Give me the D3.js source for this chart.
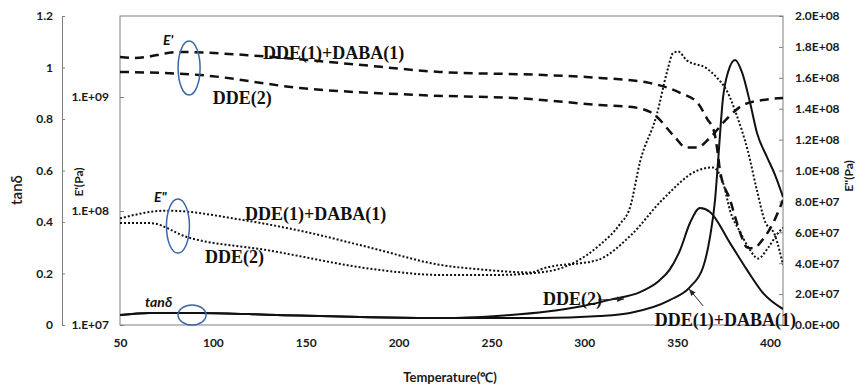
<!DOCTYPE html>
<html>
<head>
<meta charset="utf-8">
<script src="https://cdn.jsdelivr.net/npm/d3@7"></script>
<style>
  body { margin: 0; background: #fff; }
  svg { display: block; }
  .ax text { font-family: Lato, sans-serif; font-weight: 700; font-size: 12px; fill: #1a1a1a; }
  .ax path, .ax line { stroke: #7f7f7f; }
  .note { font-family: "Liberation Serif", serif; font-weight: 700; font-size: 18px; fill: #111; }
  .it { font-family: Lato, sans-serif; font-weight: 700; font-style: italic; font-size: 14px; fill: #111; }
  .title { font-family: Lato, sans-serif; font-weight: 700; font-size: 12px; fill: #1a1a1a; }
</style>
</head>
<body>
<svg width="856" height="385"></svg>
<script>
// [temperature °C, value]
const eStoreBlend = [[50, 2.24e9], [58, 2.2e9], [82, 2.48e9], [125, 2.29e9], [174, 1.95e9], [222, 1.66e9],
  [278, 1.56e9], [308.5, 1.47e9], [335, 1.33e9], [352, 1.08e9], [361, 8.9e8], [366, 6.5e8], [370, 4.9e8],
  [372, 3.1e8], [373, 2.3e8], [378.5, 1.25e8], [384, 6.4e7], [387.6, 4.8e7], [391, 4.7e7], [396, 5.6e7],
  [401.6, 7.8e7], [407, 1.25e8]];
const eStoreDDE2 = [[50, 1.66e9], [93, 1.56e9], [147, 1.2e9], [211.5, 1.04e9], [271, 9.6e8], [308.5, 8.5e8],
  [324.6, 8.2e8], [335.4, 7.4e8], [339, 6.7e8], [348, 4.6e8], [355, 3.6e8], [360.7, 3.6e8], [367.7, 4.4e8],
  [377, 6.5e8], [385.5, 8.5e8], [396, 9.4e8], [407, 9.8e8]];
const eLossBlend = [[50, 6.9e7], [75, 7.4e7], [116, 6.8e7], [147, 6.1e7], [185, 5.0e7], [222, 3.9e7],
  [244, 3.6e7], [271, 3.4e7], [279, 3.7e7], [307, 4.2e7], [325, 5.8e7], [342, 8.1e7], [361, 1.0e8],
  [369, 1.02e8], [375, 9.1e7], [378.5, 7.4e7], [384, 6.0e7], [389, 4.9e7], [393.6, 4.3e7], [399, 5.0e7],
  [404, 5.9e7], [407, 6.3e7]];
const eLossDDE2 = [[50, 6.6e7], [66, 6.6e7], [86, 5.7e7], [129, 4.85e7], [190, 3.56e7], [222, 3.24e7],
  [253, 3.24e7], [278, 3.43e7], [294, 4.0e7], [308.5, 5.2e7], [319, 6.5e7], [324.6, 7.6e7], [330, 1.055e8],
  [339, 1.36e8], [344.6, 1.64e8], [347.8, 1.76e8], [350.5, 1.77e8], [355, 1.715e8], [366, 1.66e8],
  [371.5, 1.6e8], [377, 1.51e8], [382, 1.36e8], [388, 1.13e8], [393, 8.7e7], [397, 6.8e7], [402.7, 5.8e7],
  [407, 3.9e7]];
const tanBlend = [[50, 0.039], [66, 0.047], [93, 0.047], [134.5, 0.039], [224, 0.027], [276, 0.027],
  [308.5, 0.035], [324.6, 0.047], [346, 0.097], [357, 0.148], [364, 0.225], [367.7, 0.342], [370.4, 0.485],
  [372, 0.633], [374.7, 0.882], [377.4, 0.982], [381.2, 1.029], [384.9, 0.982], [389.3, 0.862],
  [393, 0.746], [398.4, 0.652], [402.7, 0.583], [407, 0.497]];
const tanDDE2 = [[50, 0.039], [66, 0.047], [93, 0.047], [134.5, 0.039], [224, 0.027], [253, 0.035],
  [280, 0.052], [300, 0.075], [315, 0.1], [330, 0.128], [340, 0.17], [346, 0.215], [351.6, 0.291],
  [356.9, 0.396], [362.3, 0.454], [367.7, 0.439], [378.5, 0.318], [387.6, 0.214], [396.3, 0.124],
  [407, 0.062]];

const xTicks = [50, 100, 150, 200, 250, 300, 350, 400];
const tanTicks = [0, 0.2, 0.4, 0.6, 0.8, 1, 1.2];
const eStoreTicks = [1e7, 1e8, 1e9];
const eLossTicks = [0, 2e7, 4e7, 6e7, 8e7, 1e8, 1.2e8, 1.4e8, 1.6e8, 1.8e8, 2e8];

const svg = d3.select('svg');
const m = { left: 120, right: 783, top: 16, bottom: 325 };

const x = d3.scaleLinear().domain([50, 407]).range([m.left, m.right]);
const yTan = d3.scaleLinear().domain([0, 1.2]).range([m.bottom, m.top]);
const yStore = d3.scaleLog().domain([1e7, Math.pow(10, 7 + 309 / 114)]).range([m.bottom, m.top]);
const yLoss = d3.scaleLinear().domain([0, 2e8]).range([m.bottom, m.top]);

const sciFmt = (d) => {
  const [mant, e] = d.toExponential(1).split('e');
  const n = Math.abs(+e);
  return `${mant}E${+e < 0 ? '-' : '+'}${n < 10 ? '0' : ''}${n}`;
};

// axes
svg.append('g').attr('class', 'ax')
  .attr('transform', 'translate(62,0)')
  .call(d3.axisLeft(yTan).tickValues(tanTicks).tickFormat(d => String(d))
    .tickSizeInner(-3).tickSizeOuter(0).tickPadding(9));

svg.append('g').attr('class', 'ax')
  .attr('transform', `translate(${m.left},0)`)
  .call(d3.axisLeft(yStore).tickValues(eStoreTicks).tickFormat(d => `1.E+0${Math.round(Math.log10(d))}`)
    .tickSizeInner(-4).tickSizeOuter(0).tickPadding(11))
  .select('.domain').remove();

svg.append('g').attr('class', 'ax')
  .attr('transform', `translate(${m.right},0)`)
  .call(d3.axisRight(yLoss).tickValues(eLossTicks).tickFormat(sciFmt)
    .tickSizeInner(-4).tickSizeOuter(0).tickPadding(12))
  .select('.domain').remove();

svg.append('g').attr('class', 'ax')
  .attr('transform', `translate(0,${m.bottom})`)
  .call(d3.axisBottom(x).tickValues(xTicks).tickSize(0).tickPadding(13))
  .select('.domain').remove();

svg.append('rect')
  .attr('x', m.left).attr('y', m.top)
  .attr('width', m.right - m.left).attr('height', m.bottom - m.top)
  .attr('fill', 'none').attr('stroke', '#7f7f7f');

// titles
svg.append('text').attr('class', 'title').style('font-size', '15px').style('font-weight', 600)
  .attr('transform', 'translate(22,190) rotate(-90)').attr('text-anchor', 'middle').text('tanδ');
svg.append('text').attr('class', 'title')
  .attr('transform', 'translate(83,182) rotate(-90)').attr('text-anchor', 'middle').text("E'(Pa)");
svg.append('text').attr('class', 'title')
  .attr('transform', 'translate(853,176) rotate(-90)').attr('text-anchor', 'middle').text("E''(Pa)");
svg.append('text').attr('class', 'title').style('font-size', '13px')
  .attr('x', 450).attr('y', 382).attr('text-anchor', 'middle').text('Temperature(℃)');

// curves
svg.append('clipPath').attr('id', 'clip')
  .append('rect').attr('x', m.left).attr('y', m.top)
  .attr('width', m.right - m.left).attr('height', m.bottom - m.top);
const plot = svg.append('g').attr('clip-path', 'url(#clip)');

const lineOf = ys => d3.line().x(d => x(d[0])).y(d => ys(d[1])).curve(d3.curveMonotoneX);

const series = [
  { data: eStoreBlend, y: yStore, dash: '9,6', w: 2.5 },
  { data: eStoreDDE2, y: yStore, dash: '9,6', w: 2.5 },
  { data: eLossBlend, y: yLoss, dash: '2,2', w: 2 },
  { data: eLossDDE2, y: yLoss, dash: '2,2', w: 2 },
  { data: tanBlend, y: yTan, dash: null, w: 2 },
  { data: tanDDE2, y: yTan, dash: null, w: 2 },
];

plot.selectAll('path.curve')
  .data(series)
  .enter()
  .append('path')
  .attr('class', 'curve')
  .attr('fill', 'none')
  .attr('stroke', '#111')
  .attr('stroke-width', d => d.w)
  .attr('stroke-dasharray', d => d.dash)
  .attr('d', d => lineOf(d.y)(d.data));

// annotations
const notes = svg.append('g');
const note = (t, v, txt, cls) => notes.append('text').attr('class', cls)
  .attr('x', x(t)).attr('y', yTan(v)).text(txt);

note(127, 1.033, 'DDE(1)+DABA(1)', 'note');
note(100, 0.858, 'DDE(2)', 'note');
note(117.3, 0.408, 'DDE(1)+DABA(1)', 'note');
note(95.8, 0.241, 'DDE(2)', 'note');
note(277.8, 0.078, 'DDE(2)', 'note');
note(338, -0.004, 'DDE(1)+DABA(1)', 'note');
note(73.2, 1.087, "E'", 'it');
note(68.3, 0.478, 'E"', 'it');
note(63.5, 0.07, 'tanδ', 'it');

const rings = [[87.2, 0.998, 11, 27], [81.2, 0.384, 11.5, 27], [88.8, 0.039, 14, 10]];
notes.selectAll('ellipse')
  .data(rings)
  .enter()
  .append('ellipse')
  .attr('cx', d => x(d[0])).attr('cy', d => yTan(d[1]))
  .attr('rx', d => d[2]).attr('ry', d => d[3])
  .attr('fill', 'none').attr('stroke', '#3b67a6').attr('stroke-width', 1.5);

svg.append('defs').append('marker')
  .attr('id', 'arr').attr('viewBox', '0 0 10 10').attr('refX', 10).attr('refY', 5)
  .attr('markerWidth', 7).attr('markerHeight', 7).attr('orient', 'auto')
  .append('path').attr('d', 'M0,1L10,5L0,9Z').attr('fill', '#222');

const arrows = [[307.4, 0.097, 321.4, 0.101], [364, 0.074, 356.4, 0.14]];
notes.selectAll('line')
  .data(arrows)
  .enter()
  .append('line')
  .attr('x1', d => x(d[0])).attr('y1', d => yTan(d[1]))
  .attr('x2', d => x(d[2])).attr('y2', d => yTan(d[3]))
  .attr('stroke', '#222').attr('stroke-width', 1)
  .attr('marker-end', 'url(#arr)');
</script>
</body>
</html>
